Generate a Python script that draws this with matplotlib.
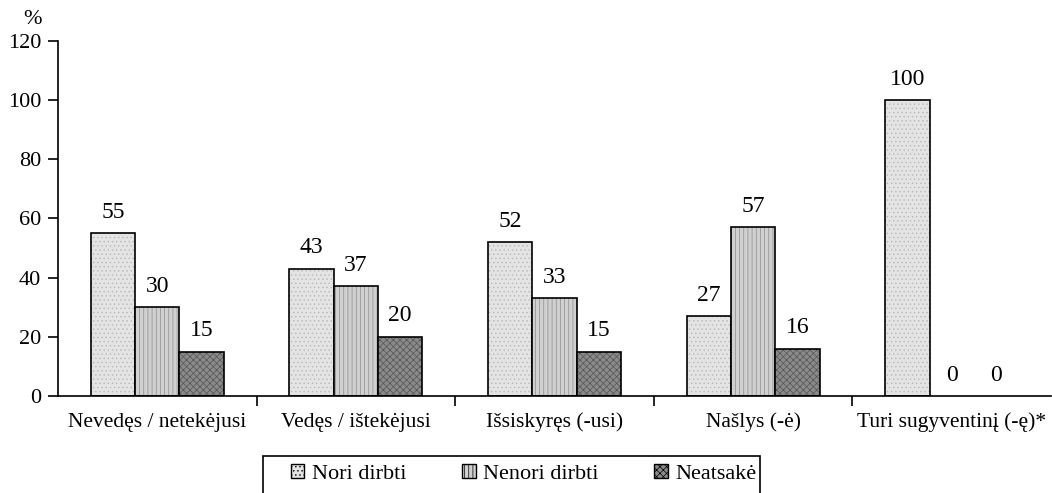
import numpy as np
import matplotlib.pyplot as plt
from matplotlib.patches import Patch, Rectangle

plt.rcParams['font.family'] = ['Liberation Serif', 'DejaVu Serif']
plt.rcParams['hatch.linewidth'] = 0.5

categories = ["Nevedęs / netekėjusi", "Vedęs / ištekėjusi", "Išsiskyręs (-usi)",
              "Našlys (-ė)", "Turi sugyventinį (-ę)*"]
series_names = ["Nori dirbti", "Nenori dirbti", "Neatsakė"]
nori = [55, 43, 52, 27, 100]
nenori = [30, 37, 33, 57, 0]
neatsake = [15, 20, 15, 16, 0]

faces = ["#e4e4e4", "#d0d0d0", "#8a8a8a"]
hatches = ["....", "||||", "xxxxx"]
hatch_cols = ["#b8b8b8", "#8c8c8c", "#555555"]

fig = plt.figure(figsize=(10.52, 4.93), dpi=100)
ax = fig.add_axes([0.0551, 0.197, 0.944, 0.72])

x = np.arange(len(categories))
w = 0.223
for i, vals in enumerate([nori, nenori, neatsake]):
    pos = x + (i - 1) * w
    shown = [v if v > 0 else np.nan for v in vals]
    ax.bar(pos, shown, w, color=faces[i], edgecolor=hatch_cols[i],
           hatch=hatches[i], linewidth=0)
    # black outline drawn separately
    ax.bar(pos, shown, w, fill=False, edgecolor="black", linewidth=1.2)
    for p, v in zip(pos, vals):
        ax.text(p, v + 3.5, str(v), ha="center", va="bottom", fontsize=17)

ax.set_xlim(-0.5, len(categories) - 0.5)
ax.set_ylim(0, 120)
ax.set_yticks(range(0, 121, 20))
ax.tick_params(axis="y", labelsize=16, direction="out", length=7, width=1.2, pad=5)
ax.set_xticks(x)
ax.set_xticklabels(categories, fontsize=15.5)
ax.tick_params(axis="x", length=0, pad=12)
ax.set_xticks(np.arange(0.5, len(categories) - 0.5, 1), minor=True)
ax.tick_params(axis="x", which="minor", length=7, width=1.2, direction="out")
for s in ["top", "right"]:
    ax.spines[s].set_visible(False)
for s in ["left", "bottom"]:
    ax.spines[s].set_linewidth(1.2)

fig.text(0.031, 0.961, "%", fontsize=16, ha="center", va="center")

handles = [Patch(facecolor=faces[i], edgecolor="black", hatch=hatches[i], linewidth=1)
           for i in range(3)]
leg = fig.legend(handles, series_names, loc="center", bbox_to_anchor=(0.498, 0.0385),
                 ncol=3, fontsize=16, frameon=False,
                 handlelength=0.6, handleheight=0.6, handletextpad=0.35,
                 columnspacing=2.5, borderpad=0)
fig.patches.append(Rectangle((0.25, -0.02), 0.4724, 0.095, transform=fig.transFigure,
                             fill=False, edgecolor="black", linewidth=1.2))

fig.savefig("out.png", dpi=100)
